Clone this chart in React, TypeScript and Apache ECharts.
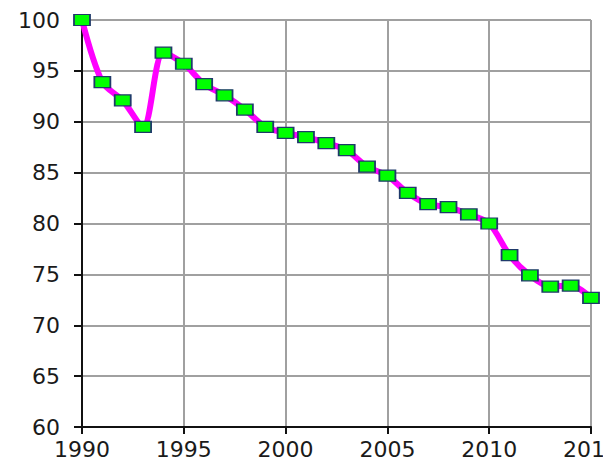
import React, { useEffect, useRef } from "react";
import * as echarts from "echarts";

const years = [1990, 1991, 1992, 1993, 1994, 1995, 1996, 1997, 1998, 1999, 2000, 2001, 2002, 2003, 2004, 2005, 2006, 2007, 2008, 2009, 2010, 2011, 2012, 2013, 2014, 2015];
const values = [100, 93.9, 92.1, 89.5, 96.8, 95.7, 93.7, 92.6, 91.2, 89.5, 88.9, 88.5, 87.9, 87.2, 85.6, 84.7, 83.0, 81.9, 81.6, 80.9, 80.0, 76.9, 74.9, 73.8, 73.9, 72.7];

export default function App() {
  const ref = useRef<HTMLDivElement>(null);
  useEffect(() => {
    if (!ref.current) return;
    const chart = echarts.init(ref.current, null, { renderer: "svg" });
    const labelStyle = { color: "#1a1a1a", fontSize: 22, fontFamily: "DejaVu Sans" };
    chart.setOption({
      animation: false,
      backgroundColor: "#fff",
      grid: { left: 82, right: 12, top: 20, bottom: 34, containLabel: false, outerBoundsMode: "none" },
      xAxis: {
        type: "value",
        min: 1990,
        max: 2015,
        interval: 5,
        axisLine: { show: true, lineStyle: { color: "#111", width: 2 } },
        axisTick: { show: true, inside: false, length: 7, lineStyle: { color: "#111", width: 2 } },
        axisLabel: { ...labelStyle, margin: 11, formatter: (v: number) => String(v) },
        splitLine: { show: true, lineStyle: { color: "#a0a0a0", width: 2 } },
      },
      yAxis: {
        type: "value",
        min: 60,
        max: 100,
        interval: 5,
        axisLine: { show: true, lineStyle: { color: "#111", width: 2 } },
        axisTick: { show: true, inside: false, length: 8, lineStyle: { color: "#111", width: 2 } },
        axisLabel: { ...labelStyle, margin: 22 },
        splitLine: { show: true, lineStyle: { color: "#a0a0a0", width: 2 } },
      },
      series: [
        {
          type: "line",
          data: years.map((y, i) => [y, values[i]]),
          smooth: 0.3,
          lineStyle: { color: "#ff00ff", width: 6 },
          symbol: "rect",
          symbolSize: [16, 11],
          itemStyle: { color: "#00ff00", borderColor: "#1f3a6a", borderWidth: 1.5 },
          z: 5,
        },
      ],
    });
    return () => chart.dispose();
  }, []);
  return <div ref={ref} style={{ width: 603, height: 461, position: "absolute", left: 0, top: 0 }} />;
}
